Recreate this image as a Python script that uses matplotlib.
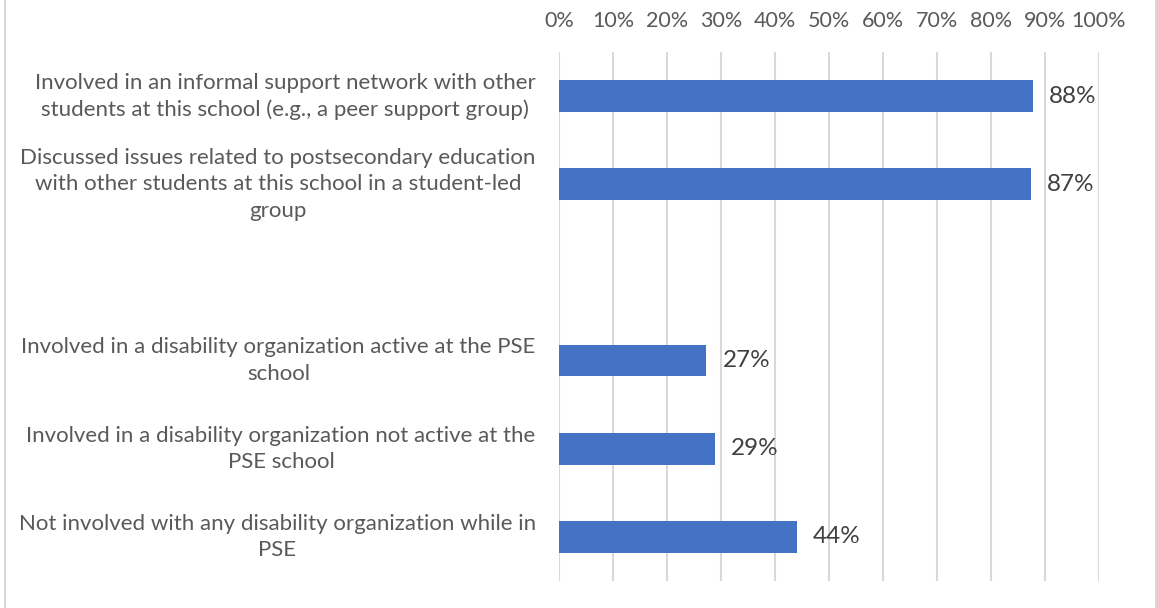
import matplotlib.pyplot as plt
from matplotlib.lines import Line2D
from matplotlib.ticker import PercentFormatter
import numpy as np

# survey items, top to bottom (blank row separates the two groups)
items = [
    "Involved in an informal support network with other\nstudents at this school (e.g., a peer support group)",
    "Discussed issues related to postsecondary education\nwith other students at this school in a student-led\ngroup",
    "",
    "Involved in a disability organization active at the PSE\nschool",
    "Involved in a disability organization not active at the\nPSE school",
    "Not involved with any disability organization while in\nPSE",
]
shares = [0.877, 0.874, np.nan, 0.273, 0.289, 0.44]
xticks = np.arange(0, 1.01, 0.1)

bar_color = "#4472C4"
grid_color = "#D9D9D9"
text_color = "#595959"
label_color = "#404040"

plt.rcParams['font.family'] = ['Lato', 'DejaVu Sans']

fig = plt.figure(figsize=(11.57, 6.08), dpi=100)
ax = fig.add_axes([0.4831, 0.0444, 0.4667, 0.870])

y = np.arange(len(items))
ax.barh(y, shares, height=0.36, color=bar_color, zorder=3)

for yi, v in zip(y, shares):
    if np.isnan(v):
        continue
    ax.text(v + 0.03, yi, f"{v*100:.0f}%", va='center', ha='left',
            fontsize=17.5, color=label_color)

ax.set_xlim(0, 1)
ax.set_ylim(len(items) - 0.5, -0.5)
ax.set_xticks(xticks)
ax.xaxis.set_major_formatter(PercentFormatter(1.0, decimals=0))
ax.xaxis.tick_top()
ax.tick_params(axis='x', length=0, pad=15, labelsize=15.5, labelcolor=text_color)

ax.set_yticks(y)
ax.set_yticklabels([])
ax.tick_params(axis='y', length=0)
for yi, lab in zip(y, items):
    ax.text(-0.043, yi, lab, transform=ax.get_yaxis_transform(),
            ha='right', va='center', multialignment='center',
            fontsize=16, color=text_color, linespacing=1.4)

ax.grid(axis='x', color=grid_color, linewidth=1.5, zorder=0)
for s in ax.spines.values():
    s.set_visible(False)

# chart frame edges
fig.add_artist(Line2D([4.5 / 1157, 4.5 / 1157], [0, 1], color=grid_color, lw=1.5))
fig.add_artist(Line2D([1155.5 / 1157, 1155.5 / 1157], [0, 1], color=grid_color, lw=1.5))

fig.savefig("out.png", dpi=100)
